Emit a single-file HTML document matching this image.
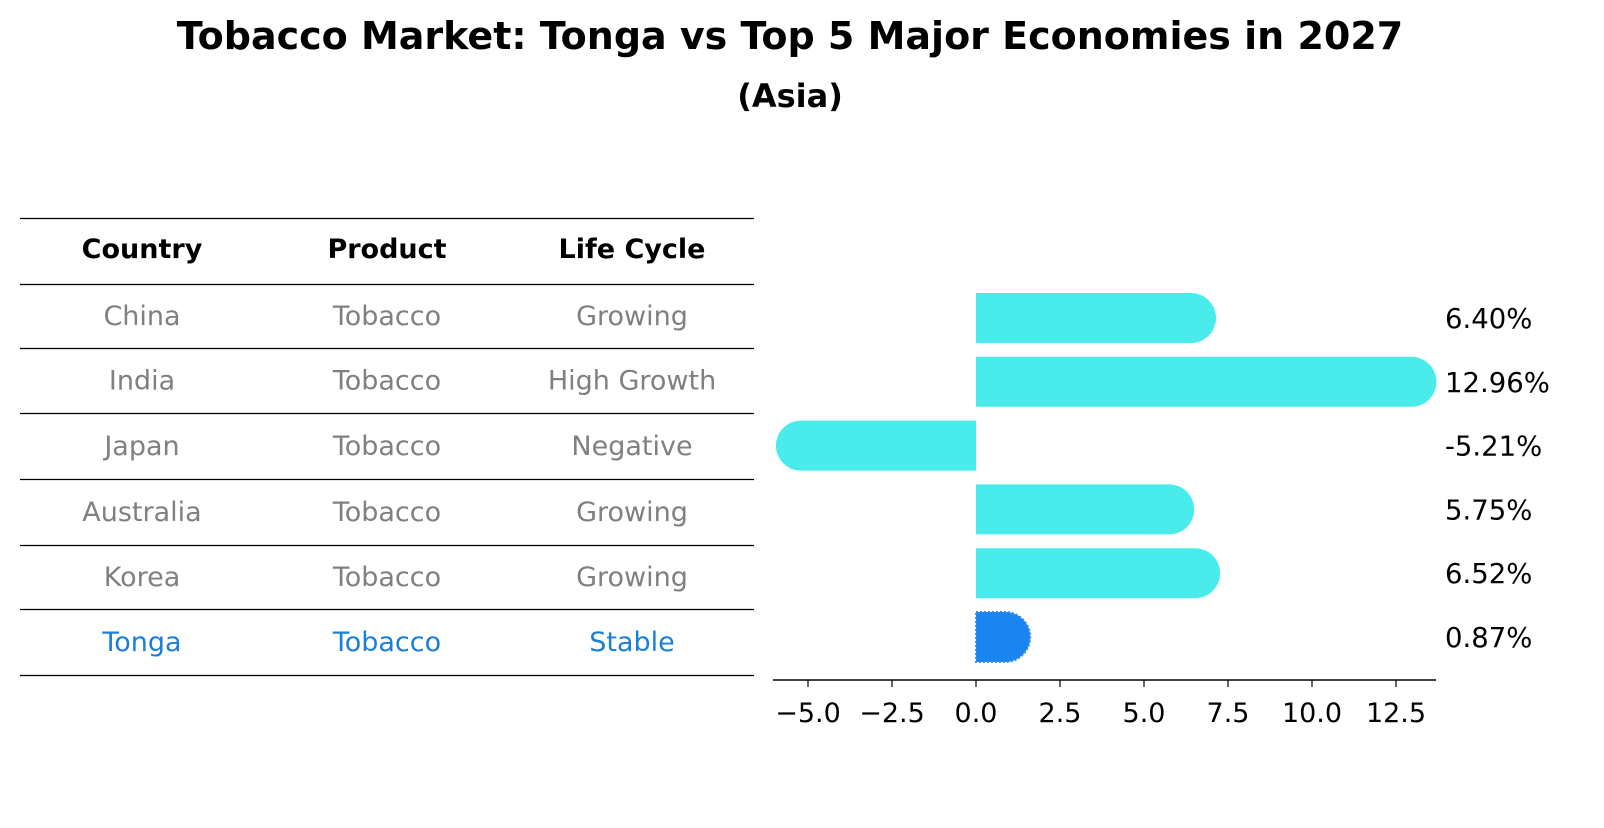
<!DOCTYPE html>
<html><head><meta charset="utf-8"><style>
body{margin:0;background:#fff;font-family:"Liberation Sans","DejaVu Sans",sans-serif}
svg text{font-family:"DejaVu Sans","Liberation Sans",sans-serif}
</style></head><body>
<svg id="c" width="1604" height="823" xmlns="http://www.w3.org/2000/svg">
<text x="790" y="49" text-anchor="middle" font-size="38" font-weight="bold">Tobacco Market: Tonga vs Top 5 Major Economies in 2027</text>
<text x="790" y="107" text-anchor="middle" font-size="32" font-weight="bold">(Asia)</text>
<g id="table"></g>
<g id="bars"></g>
</svg>
<script>
const countries=["China","India","Japan","Australia","Korea","Tonga"];
const products=["Tobacco","Tobacco","Tobacco","Tobacco","Tobacco","Tobacco"];
const lifeCycles=["Growing","High Growth","Negative","Growing","Growing","Stable"];
const growth=[6.40,12.96,-5.21,5.75,6.52,0.87];
const ticks=[-5.0,-2.5,0.0,2.5,5.0,7.5,10.0,12.5];
const NS="http://www.w3.org/2000/svg";
function mk(t,a,p){const e=document.createElementNS(NS,t);for(const k in a)e.setAttribute(k,a[k]);p.appendChild(e);return e;}
const tb=document.getElementById('table'),bg=document.getElementById('bars');
const lineY=[218,284,348,413,479,545,609,675];
lineY.forEach(y=>{const l=mk('line',{x1:20,x2:754,y1:y+0.5,y2:y+0.5,stroke:'#000','stroke-width':1.2},tb);

});
const colX=[142,387,632],heads=["Country","Product","Life Cycle"];
heads.forEach((h,i)=>{const t=mk('text',{x:colX[i],y:258,'text-anchor':'middle','font-size':27,'font-weight':'bold'},tb);t.textContent=h;

});
countries.forEach((c,r)=>{const y=(lineY[r+1]+lineY[r+2])/2+9;const col=c==="Tonga"?"#1a7fd9":"#808080";
[c,products[r],lifeCycles[r]].forEach((v,i)=>{const t=mk('text',{x:colX[i],y:y,'text-anchor':'middle','font-size':27,fill:col},tb);t.textContent=v;

});});
const x=v=>976+v*33.6;
const rowY=i=>318+i*63.8;
const h=50,rad=25;
growth.forEach((v,i)=>{const y=rowY(i);const x0=x(0),x1=x(v);const tonga=countries[i]==="Tonga";
const fill=tonga?"#1a85f0":"#4aeceb";let d;
if(v>=0){d=`M${x0},${y-h/2} L${x1},${y-h/2} A${rad},${rad} 0 0 1 ${x1},${y+h/2} L${x0},${y+h/2} Z`;}
else{d=`M${x0},${y-h/2} L${x1},${y-h/2} A${rad},${rad} 0 0 0 ${x1},${y+h/2} L${x0},${y+h/2} Z`;}
const p=mk('path',{d:d,fill:fill},bg);
if(tonga){p.setAttribute('stroke','#3a8ee0');p.setAttribute('stroke-dasharray','2,2');p.setAttribute('stroke-width','2');}


const t=mk('text',{x:1445,y:y+10,'font-size':27.5},bg);t.textContent=v.toFixed(2)+'%';

});
const ax=mk('line',{x1:773,x2:1436,y1:680,y2:680,stroke:'#000','stroke-width':1.5},bg);


ticks.forEach(v=>{const l=mk('line',{x1:x(v),x2:x(v),y1:680,y2:687,stroke:'#000','stroke-width':1.2},bg);


const t=mk('text',{x:x(v),y:722,'text-anchor':'middle','font-size':27},bg);t.textContent=(v<0?'\u2212':'')+Math.abs(v).toFixed(1);

});
</script>
</body></html>
